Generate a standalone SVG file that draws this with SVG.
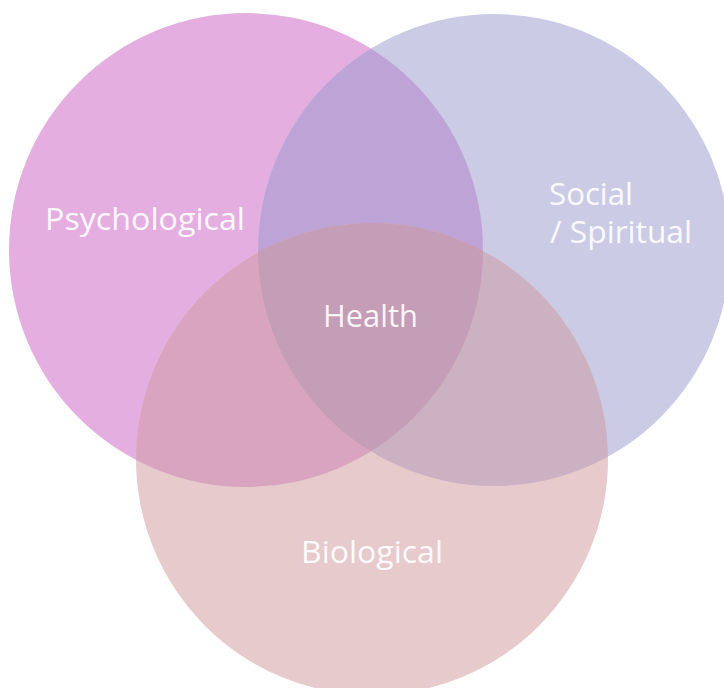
<svg xmlns="http://www.w3.org/2000/svg" width="724" height="688" viewBox="0 0 724 688">
<style>
.lbl{font-family:"Open Sans","Noto Sans","Liberation Sans",sans-serif;font-size:31px;fill:#ffffff;fill-opacity:0.93}
</style>
<defs>
<clipPath id="cP"><circle cx="246" cy="250" r="237"/></clipPath>
<clipPath id="cS"><circle cx="494" cy="250" r="236"/></clipPath>
<clipPath id="cB"><circle cx="372" cy="459" r="236"/></clipPath>
</defs>
<rect width="724" height="688" fill="#ffffff"/>
<g id="psychological">
<circle cx="246" cy="250" r="237" fill="#E4AFE0"/>
</g>
<g id="social">
<circle cx="494" cy="250" r="236" fill="#CBCBE6"/>
</g>
<g id="biological">
<circle cx="372" cy="459" r="236" fill="#E6CACC"/>
</g>
<g id="overlaps">
<g clip-path="url(#cP)"><circle cx="494" cy="250" r="236" fill="#BEA4D6"/></g>
<g clip-path="url(#cP)"><circle cx="372" cy="459" r="236" fill="#D9A4C0"/></g>
<g clip-path="url(#cS)"><circle cx="372" cy="459" r="236" fill="#CBB1C1"/></g>
<g clip-path="url(#cP)"><g clip-path="url(#cS)"><circle cx="372" cy="459" r="236" fill="#C49DB6"/></g></g>
</g>
<g id="labels">
<text class="lbl" x="45" y="230" textLength="200" lengthAdjust="spacingAndGlyphs">Psychological</text>
<text class="lbl" x="549" y="205" textLength="84" lengthAdjust="spacingAndGlyphs">Social</text>
<text class="lbl" x="550" y="243" textLength="142" lengthAdjust="spacingAndGlyphs">/ Spiritual</text>
<text class="lbl" x="323" y="327" textLength="95" lengthAdjust="spacingAndGlyphs">Health</text>
<text class="lbl" x="301" y="563" textLength="142" lengthAdjust="spacingAndGlyphs">Biological</text>
</g>
<g id="connectors"/>
</svg>
